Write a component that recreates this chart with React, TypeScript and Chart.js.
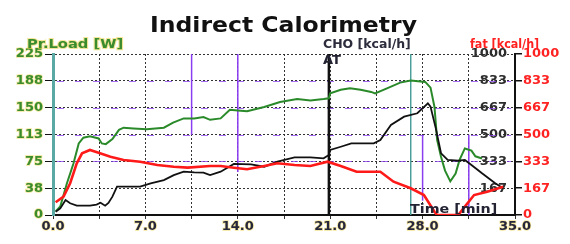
import { useEffect, useRef } from 'react';
import { Chart, registerables } from 'chart.js';

Chart.register(...registerables);

// ---- data ----
const loadTime = [0.2, 0.55, 1.05, 1.55, 1.95, 2.3, 2.8, 3.45, 3.7, 4.0, 4.5, 5.0, 5.35, 6.1, 7.1, 8.4, 9.1, 9.9, 10.7, 11.4, 11.9, 12.7, 13.4, 14.0, 14.7, 16.0, 17.2, 18.5, 19.5, 20.5, 20.9, 21.0, 21.8, 22.5, 23.3, 24.1, 24.4, 25.3, 26.3, 27.1, 28.2, 28.6, 28.9, 29.1, 29.4, 29.7, 30.1, 30.5, 30.8, 31.2, 31.7, 32.0, 32.5];
const loadWatts = [5, 12, 44, 72, 100, 108, 110, 107, 100, 99, 106, 119, 122, 121, 120, 122, 129, 135, 135, 137, 133, 135, 147, 146, 145, 151, 158, 162, 160, 162, 163, 170, 175, 177, 175, 172, 170, 177, 185, 188, 186, 178, 151, 105, 81, 62, 47, 58, 77, 93, 90, 82, 79];

const choTime = [0.2, 0.55, 0.95, 1.3, 1.8, 2.8, 3.3, 3.6, 3.95, 4.2, 4.5, 4.85, 5.9, 6.6, 7.4, 8.4, 9.15, 9.9, 10.7, 11.4, 11.9, 12.7, 13.7, 15.0, 16.0, 17.0, 18.3, 19.5, 20.5, 20.9, 21.0, 21.8, 22.6, 24.3, 24.8, 25.6, 26.6, 27.6, 28.4, 28.6, 29.0, 29.4, 29.9, 30.7, 31.2, 31.7, 32.5, 33.5, 34.1];
const choKcal = [20, 41, 93, 73, 58, 58, 65, 76, 58, 75, 114, 176, 176, 176, 197, 217, 248, 269, 265, 263, 248, 269, 317, 314, 300, 331, 358, 358, 352, 373, 404, 424, 445, 445, 466, 559, 611, 632, 694, 673, 538, 383, 342, 337, 342, 311, 259, 197, 166];

const fatTime = [0.2, 0.8, 1.3, 1.8, 2.2, 2.8, 3.45, 4.35, 5.35, 6.6, 7.9, 9.15, 10.2, 11.9, 12.7, 13.7, 14.7, 16.0, 17.0, 18.3, 19.5, 20.8, 21.8, 23.0, 24.8, 25.8, 27.1, 28.1, 28.9, 29.1, 30.7, 31.2, 31.9, 32.9, 34.1];
const fatKcal = [79, 114, 197, 321, 383, 404, 387, 362, 342, 331, 311, 300, 294, 304, 304, 294, 284, 304, 321, 311, 304, 331, 304, 269, 269, 207, 166, 124, 20, 0, 0, 52, 124, 145, 176];

// tick values and labels
const timeTickValues = [0, 3.5, 7, 10.5, 14, 17.5, 21, 24.5, 28, 31.5, 35];
const timeTickLabels = ['0.0', '', '7.0', '', '14.0', '', '21.0', '', '28.0', '', '35.0'];
const loadTickValues = [0, 37.5, 75, 112.5, 150, 187.5, 225];
const loadTickLabels = ['0', '38', '75', '113', '150', '188', '225'];
const kcalTickValues = [0, 166.67, 333.33, 500, 666.67, 833.33, 1000];
const choTickLabels = ['', '167', '333', '500', '667', '833', '1000'];
const fatTickLabels = ['0', '167', '333', '500', '667', '833', '1000'];

// vertical event markers (time in min, extent in W on the load scale)
const markerTimes = [10.5, 14.0, 20.9, 27.1, 28.0, 31.5];
const markerFromW = [112, 60, 0, 0, 20, 0];
const markerToW = [225, 225, 225, 225, 112, 112];

// load levels where the purple overlay dashes run along the grid
const purpleGridLevels = [187.5, 150, 112.5, 75];

// texts
const titleText = 'Indirect Calorimetry';
const loadAxisTitle = 'Pr.Load [W]';
const choAxisTitle = 'CHO [kcal/h]';
const fatAxisTitle = 'fat [kcal/h]';
const atText = 'AT';
const timeAxisTitle = 'Time [min]';

const FAM = '"DejaVu Sans", "Liberation Sans", Arial, sans-serif';
const GREEN_TXT = '#3a8c2e';
const HALO = 'rgba(235, 210, 70, 0.55)';
const PURPLE = 'rgba(138, 60, 240, 0.75)';

const markerStyles = [
  { color: '#8a3cf0', width: 1.5 },
  { color: '#8a3cf0', width: 1.5 },
  { color: '#111111', width: 2.5 },
  { color: '#4a9e9a', width: 1.5 },
  { color: '#8a3cf0', width: 1.5 },
  { color: '#8a3cf0', width: 1.5 },
];

function drawText(
  ctx: CanvasRenderingContext2D,
  text: string,
  x: number,
  y: number,
  size: number,
  color: string,
  sx: number,
  align: CanvasTextAlign = 'left',
  halo?: string
) {
  ctx.save();
  ctx.translate(x, y);
  ctx.scale(sx, 1);
  ctx.font = `bold ${size}px ${FAM}`;
  ctx.textAlign = align;
  ctx.textBaseline = 'alphabetic';
  if (halo) {
    ctx.strokeStyle = halo;
    ctx.lineWidth = 2;
    ctx.strokeText(text, 0, 0);
  }
  ctx.fillStyle = color;
  ctx.fillText(text, 0, 0);
  ctx.restore();
}

const zip = (xs: number[], ys: number[]) => xs.map((x, i) => ({ x, y: ys[i] }));

export default function App() {
  const ref = useRef<HTMLCanvasElement>(null);

  useEffect(() => {
    const canvas = ref.current;
    if (!canvas) return;

    const markerPlugin = {
      id: 'markers',
      beforeDatasetsDraw(chart: any) {
        const { ctx, chartArea } = chart;
        const xs = chart.scales.x;
        const ys = chart.scales.y;
        // purple overlay dashes along some grid lines
        purpleGridLevels.forEach((lv) => {
          const py = Math.round(ys.getPixelForValue(lv)) + 0.5;
          ctx.save();
          ctx.strokeStyle = PURPLE;
          ctx.lineWidth = 1.2;
          ctx.setLineDash([7, 11]);
          ctx.beginPath();
          ctx.moveTo(chartArea.left + 4, py);
          ctx.lineTo(chartArea.right - 4, py);
          ctx.stroke();
          ctx.restore();
        });
        markerTimes.forEach((t, i) => {
          const st = markerStyles[i];
          const px = xs.getPixelForValue(t);
          ctx.save();
          ctx.strokeStyle = st.color;
          ctx.lineWidth = st.width;
          ctx.beginPath();
          ctx.moveTo(px, ys.getPixelForValue(markerFromW[i]));
          ctx.lineTo(px, ys.getPixelForValue(markerToW[i]));
          ctx.stroke();
          ctx.restore();
        });
      },
    };

    const textPlugin = {
      id: 'texts',
      afterDraw(chart: any) {
        const { ctx, chartArea } = chart;
        const { left, right, top, bottom } = chartArea;
        drawText(ctx, titleText, (left + right) / 2 - 0.5, top - 22.5, 21, '#111111', 1.12, 'center');
        drawText(ctx, loadAxisTitle, left - 26, top - 6.5, 13, GREEN_TXT, 1.13, 'left', HALO);
        drawText(ctx, choAxisTitle, left + 270, top - 6.5, 12, '#2c2c3c', 1.04, 'left');
        drawText(ctx, fatAxisTitle, left + 417, top - 6.5, 12, '#ff2020', 0.93, 'left');
        drawText(ctx, atText, left + 270, top + 9.5, 13, '#222233', 1.0, 'left');
        drawText(ctx, timeAxisTitle, left + 357, bottom - 2.5, 12, '#222233', 1.19, 'left');
      },
    };

    const tickFont = { family: FAM, size: 13, weight: 'bold' as const };

    const chart = new Chart(canvas, {
      type: 'line',
      data: {
        datasets: [
          {
            label: 'fat',
            data: zip(fatTime, fatKcal),
            yAxisID: 'y2',
            borderColor: '#ff1a1a',
            borderWidth: 2.6,
            pointRadius: 0,
            fill: false,
          },
          {
            label: 'CHO',
            data: zip(choTime, choKcal),
            yAxisID: 'y1',
            borderColor: '#111111',
            borderWidth: 1.8,
            pointRadius: 0,
            fill: false,
          },
          {
            label: 'Pr.Load',
            data: zip(loadTime, loadWatts),
            yAxisID: 'y',
            borderColor: '#2a8a2a',
            borderWidth: 2,
            pointRadius: 0,
            fill: false,
          },
        ],
      },
      options: {
        responsive: false,
        animation: false,
        devicePixelRatio: 1,
        layout: { padding: { top: 54, left: 0, right: 0, bottom: 0 } },
        plugins: {
          legend: { display: false },
          tooltip: { enabled: false },
          title: { display: false },
        },
        scales: {
          x: {
            type: 'linear',
            min: 0,
            max: 35,
            afterBuildTicks: (s: any) => {
              s.ticks = timeTickValues.map((v) => ({ value: v }));
            },
            afterFit: (s: any) => {
              s.height = 29;
            },
            ticks: {
              autoSkip: false,
              maxRotation: 0,
              minRotation: 0,
              padding: 0,
              font: tickFont,
              color: '#26263c',
              textStrokeColor: HALO,
              textStrokeWidth: 1.5,
              callback: (_v: any, i: number) => timeTickLabels[i],
            },
            grid: {
              color: (c: any) =>
                c.tick && (c.tick.value === 0 || c.tick.value === 35) ? 'rgba(0,0,0,0)' : '#333333',
              lineWidth: 1,
              tickLength: 4,
              tickColor: '#333333',
            },
            border: { color: '#111111', width: 2, dash: [2, 2] },
          },
          y: {
            type: 'linear',
            position: 'left',
            min: 0,
            max: 225,
            afterBuildTicks: (s: any) => {
              s.ticks = loadTickValues.map((v) => ({ value: v }));
            },
            afterFit: (s: any) => {
              s.width = 53;
            },
            ticks: {
              padding: 2,
              font: tickFont,
              color: GREEN_TXT,
              textStrokeColor: HALO,
              textStrokeWidth: 1.5,
              callback: (_v: any, i: number) => loadTickLabels[i],
            },
            grid: {
              color: (c: any) => (c.tick && c.tick.value === 0 ? 'rgba(0,0,0,0)' : '#333333'),
              lineWidth: 1,
              tickLength: 8,
              tickColor: '#111111',
            },
            border: { color: '#5aa9a4', width: 3, dash: [2, 2] },
          },
          y1: {
            type: 'linear',
            position: 'right',
            min: 0,
            max: 1000,
            afterBuildTicks: (s: any) => {
              s.ticks = kcalTickValues.map((v) => ({ value: v }));
            },
            afterFit: (s: any) => {
              s.width = 0;
            },
            ticks: {
              mirror: true,
              padding: -8,
              font: tickFont,
              color: '#2d2d2d',
              callback: (_v: any, i: number) => choTickLabels[i],
            },
            grid: { drawOnChartArea: false, drawTicks: false },
            border: { display: false },
          },
          y2: {
            type: 'linear',
            position: 'right',
            min: 0,
            max: 1000,
            afterBuildTicks: (s: any) => {
              s.ticks = kcalTickValues.map((v) => ({ value: v }));
            },
            afterFit: (s: any) => {
              s.width = 55;
            },
            ticks: {
              padding: 1,
              font: tickFont,
              color: '#ff2222',
              callback: (_v: any, i: number) => fatTickLabels[i],
            },
            grid: { drawOnChartArea: false, tickLength: 7, tickColor: '#111111', lineWidth: 1.5 },
            border: { color: '#111111', width: 2 },
          },
        },
      } as any,
      plugins: [markerPlugin, textPlugin],
    });

    return () => chart.destroy();
  }, []);

  return (
    <div style={{ position: 'fixed', left: 0, top: 0, width: 570, height: 244, background: '#ffffff' }}>
      <canvas ref={ref} width={570} height={244} style={{ display: 'block', width: 570, height: 244 }} />
    </div>
  );
}
